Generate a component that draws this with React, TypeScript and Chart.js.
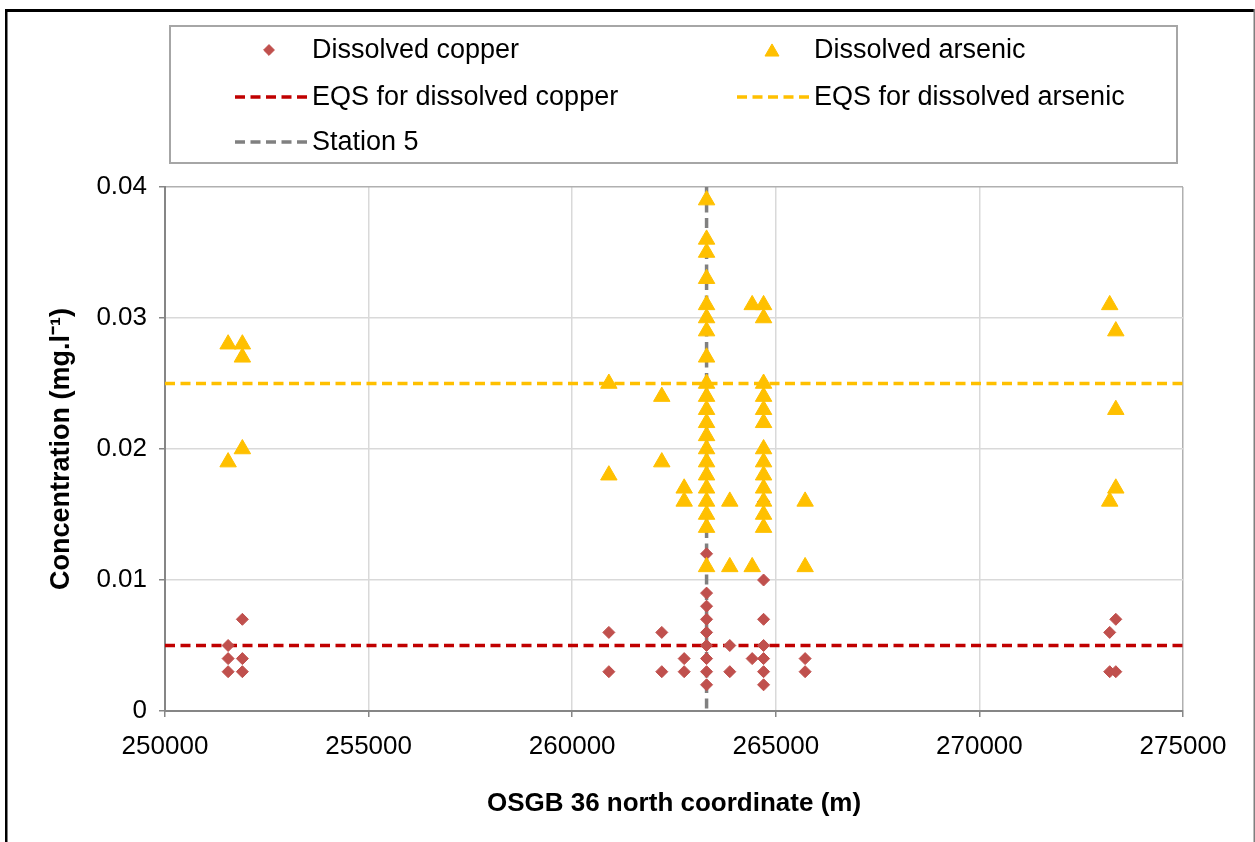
import { useEffect, useRef } from 'react';
import { Chart, registerables } from 'chart.js';

Chart.register(...registerables);

// Sampling sites along the estuary (OSGB 36 northing, m)
const siteNorthing = [251550, 251900, 260900, 262200, 262750, 263300, 263870, 264420, 264700, 265720, 273200, 273350];

// Dissolved copper (mg/l) measured at each site
const copperBySite: number[][] = [
  [0.005, 0.004, 0.003],
  [0.007, 0.004, 0.003],
  [0.006, 0.003],
  [0.006, 0.003],
  [0.004, 0.003],
  [0.012, 0.009, 0.008, 0.007, 0.006, 0.005, 0.004, 0.003, 0.002],
  [0.005, 0.003],
  [0.004],
  [0.016, 0.01, 0.007, 0.005, 0.004, 0.003, 0.002],
  [0.004, 0.003],
  [0.006, 0.003],
  [0.007, 0.003],
];

// Dissolved arsenic (mg/l) measured at each site
const arsenicBySite: number[][] = [
  [0.028, 0.019],
  [0.028, 0.027, 0.02],
  [0.025, 0.018],
  [0.024, 0.019],
  [0.017, 0.016],
  [0.039, 0.036, 0.035, 0.033, 0.031, 0.03, 0.029, 0.027, 0.025, 0.024, 0.023, 0.022, 0.021, 0.02, 0.019, 0.018, 0.017, 0.016, 0.015, 0.014, 0.011],
  [0.016, 0.011],
  [0.031, 0.011],
  [0.031, 0.03, 0.025, 0.024, 0.023, 0.022, 0.02, 0.019, 0.018, 0.017, 0.016, 0.015, 0.014],
  [0.016, 0.011],
  [0.031, 0.016],
  [0.029, 0.023, 0.017],
];

const eqsCopper = 0.005;
const eqsArsenic = 0.025;
const station5Northing = 263300;

const xTicks = [250000, 255000, 260000, 265000, 270000, 275000];
const yTicks = [0, 0.01, 0.02, 0.03, 0.04];
const yTickLabels = ['0', '0.01', '0.02', '0.03', '0.04'];

const seriesLabels = [
  'Dissolved copper',
  'Dissolved arsenic',
  'EQS for dissolved copper',
  'EQS for dissolved arsenic',
  'Station 5',
];

const FONT = '"Liberation Sans", Arial, sans-serif';
const COPPER = '#C0504D';
const ARSENIC = '#FFC000';
const EQS_CU = '#C00000';
const STATION = '#808080';
const DASH = [10, 5.5];

const toPoints = (groups: number[][]) =>
  groups.flatMap((vals, i) => vals.map((y) => ({ x: siteNorthing[i], y })));

// legend grid slot (column, row) for each dataset
const legendSlots: [number, number][] = [[0, 0], [1, 0], [0, 1], [1, 1], [0, 2]];

function drawMarker(ctx: CanvasRenderingContext2D, style: string, x: number, y: number, r: number, color: string) {
  ctx.beginPath();
  if (style === 'rectRot') {
    ctx.moveTo(x - r, y);
    ctx.lineTo(x, y - r);
    ctx.lineTo(x + r, y);
    ctx.lineTo(x, y + r);
  } else {
    ctx.moveTo(x, y - r);
    ctx.lineTo(x + 0.866 * r, y + 0.5 * r);
    ctx.lineTo(x - 0.866 * r, y + 0.5 * r);
  }
  ctx.closePath();
  ctx.fillStyle = color;
  ctx.strokeStyle = color;
  ctx.lineWidth = 1;
  ctx.fill();
  ctx.stroke();
}

const framePlugin = {
  id: 'frame',
  beforeDraw(chart: any) {
    const { ctx, width, height } = chart;
    ctx.save();
    ctx.fillStyle = '#ffffff';
    ctx.fillRect(0, 0, width, height);
    ctx.fillStyle = '#000000';
    ctx.fillRect(5, 9, width - 5, 3);
    ctx.fillRect(5, 9, 2.5, height - 9);
    ctx.fillStyle = '#7f7f7f';
    ctx.fillRect(width - 1.5, 9, 1.5, height - 9);
    ctx.restore();
  },
};

const boxLegendPlugin = {
  id: 'boxLegend',
  afterDraw(chart: any) {
    const ctx: CanvasRenderingContext2D = chart.ctx;
    ctx.save();
    ctx.strokeStyle = '#a6a6a6';
    ctx.lineWidth = 2;
    ctx.strokeRect(170, 26, 1007, 137);

    const colSample = [[235, 308], [737, 809]];
    const colText = [312, 814];
    const rowY = [50, 97, 142];

    ctx.font = `27px ${FONT}`;
    ctx.textBaseline = 'middle';
    ctx.textAlign = 'left';

    chart.data.datasets.forEach((ds: any, i: number) => {
      const [c, r] = legendSlots[i];
      const y = rowY[r];
      const [x0, x1] = colSample[c];
      if (ds.showLine) {
        ctx.save();
        ctx.strokeStyle = ds.borderColor;
        ctx.lineWidth = ds.borderWidth;
        ctx.setLineDash(ds.borderDash);
        ctx.beginPath();
        ctx.moveTo(x0, y);
        ctx.lineTo(x1, y);
        ctx.stroke();
        ctx.restore();
      } else {
        const cx = c === 0 ? 269 : 772;
        const isTri = ds.pointStyle === 'triangle';
        drawMarker(ctx, ds.pointStyle, cx, y + (isTri ? 2 : 0), isTri ? ds.pointRadius * 0.85 : ds.pointRadius * 0.9, ds.backgroundColor);
      }
      ctx.fillStyle = '#000000';
      ctx.fillText(ds.label, colText[c], y + 1);
    });
    ctx.restore();
  },
};

export default function App() {
  const canvasRef = useRef<HTMLCanvasElement | null>(null);

  useEffect(() => {
    if (!canvasRef.current) return;
    const xMin = xTicks[0];
    const xMax = xTicks[xTicks.length - 1];
    const yMin = yTicks[0];
    const yMax = yTicks[yTicks.length - 1];

    const chart = new Chart(canvasRef.current, {
      type: 'scatter',
      data: {
        datasets: [
          {
            label: seriesLabels[0],
            data: toPoints(copperBySite),
            pointStyle: 'rectRot',
            pointRadius: 6,
            backgroundColor: COPPER,
            borderColor: COPPER,
            borderWidth: 1,
            order: 1,
          },
          {
            label: seriesLabels[1],
            data: toPoints(arsenicBySite),
            pointStyle: 'triangle',
            pointRadius: 9.5,
            backgroundColor: ARSENIC,
            borderColor: ARSENIC,
            borderWidth: 1,
            order: 0,
          },
          {
            label: seriesLabels[2],
            data: [{ x: xMin, y: eqsCopper }, { x: xMax, y: eqsCopper }],
            showLine: true,
            borderColor: EQS_CU,
            borderWidth: 3.5,
            borderDash: DASH,
            pointRadius: 0,
            order: 2,
          },
          {
            label: seriesLabels[3],
            data: [{ x: xMin, y: eqsArsenic }, { x: xMax, y: eqsArsenic }],
            showLine: true,
            borderColor: ARSENIC,
            borderWidth: 3.5,
            borderDash: DASH,
            pointRadius: 0,
            order: 2,
          },
          {
            label: seriesLabels[4],
            data: [{ x: station5Northing, y: yMax }, { x: station5Northing, y: yMin }],
            showLine: true,
            borderColor: STATION,
            borderWidth: 3.5,
            borderDash: DASH,
            pointRadius: 0,
            order: 2,
          },
        ] as any,
      },
      options: {
        animation: false,
        responsive: false,
        devicePixelRatio: 1,
        layout: { padding: { left: 41, right: 72, top: 187, bottom: 19 } },
        plugins: {
          legend: { display: false },
          tooltip: { enabled: false },
        },
        scales: {
          x: {
            type: 'linear',
            min: xMin,
            max: xMax,
            afterBuildTicks: (s: any) => {
              s.ticks = xTicks.map((v) => ({ value: v }));
            },
            afterFit: (s: any) => {
              s.height = 112;
            },
            ticks: {
              color: '#000000',
              font: { family: FONT, size: 26 },
              padding: 14,
              maxRotation: 0,
              callback: (v: any) => String(v),
            },
            grid: {
              color: (c: any) => (c.index === xTicks.length - 1 ? '#b0b0b0' : '#d9d9d9'),
              lineWidth: 1.5,
              tickLength: 6,
              tickColor: '#868686',
            },
            border: { color: '#868686', width: 2 },
            title: {
              display: true,
              text: 'OSGB 36 north coordinate (m)',
              color: '#000000',
              font: { family: FONT, size: 26, weight: 'bold' },
              padding: { top: 4, bottom: 4 },
            },
          },
          y: {
            type: 'linear',
            min: yMin,
            max: yMax,
            afterBuildTicks: (s: any) => {
              s.ticks = yTicks.map((v) => ({ value: v }));
            },
            afterFit: (s: any) => {
              s.width = 124;
            },
            ticks: {
              color: '#000000',
              font: { family: FONT, size: 26 },
              padding: 12,
              callback: (v: any) => {
                const i = yTicks.findIndex((t) => Math.abs(t - v) < 1e-9);
                return i >= 0 ? yTickLabels[i] : '';
              },
            },
            grid: {
              color: (c: any) => (c.index === yTicks.length - 1 ? '#b0b0b0' : '#d9d9d9'),
              lineWidth: 1.5,
              tickLength: 6,
              tickColor: '#868686',
            },
            border: { color: '#868686', width: 2 },
            title: {
              display: true,
              text: 'Concentration (mg.l\u207B\u00B9)',
              color: '#000000',
              font: { family: FONT, size: 27, weight: 'bold' },
              padding: { top: 4, bottom: 4 },
            },
          },
        },
      } as any,
      plugins: [framePlugin, boxLegendPlugin],
    });
    return () => chart.destroy();
  }, []);

  return (
    <div style={{ position: 'absolute', left: 0, top: 0, width: 1255, height: 842 }}>
      <canvas ref={canvasRef} width={1255} height={842} style={{ display: 'block' }} />
    </div>
  );
}
